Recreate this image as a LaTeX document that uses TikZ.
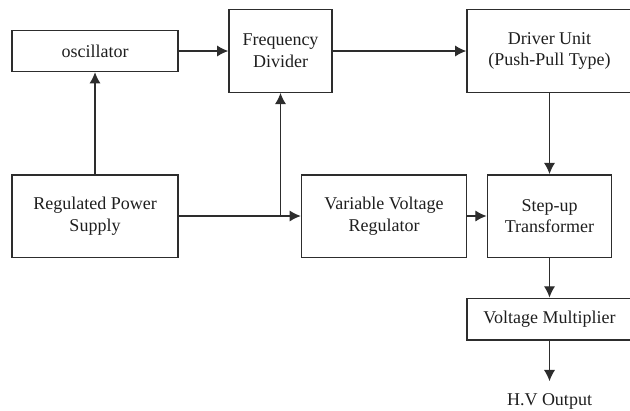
\documentclass[tikz,border=0pt]{standalone}
\usepackage{fontspec}
\setmainfont{Liberation Serif}
\usepackage{tikz}
\usetikzlibrary{arrows.meta}
\definecolor{grisLinea}{RGB}{45,45,45}
\definecolor{grisTexto}{RGB}{30,30,30}

\begin{document}
\begin{tikzpicture}[x=0.025cm, y=-0.025cm,
        bloque/.style={draw=grisLinea, line width=1pt, align=center, text=grisTexto,
            font=\fontsize{12.8}{15.4}\selectfont, inner sep=2pt},
        flecha/.style={draw=grisLinea, line width=0.9pt, -{Latex[length=8pt, width=8pt]}}]
        % Marco
        \useasboundingbox (0,0) rectangle (630,410);
        \clip (0,0) rectangle (630,410);

        % Fila superior
        \node[bloque, minimum width=4.15cm, minimum height=1.025cm] (osc) at (95,51) {oscillator};
        \node[bloque, minimum width=2.575cm, minimum height=2.06cm] (fd) at (280.5,51) {Frequency\\Divider};
        \node[bloque, minimum width=4.125cm, minimum height=2.06cm] (drv) at (549.5,51) {Driver Unit\\(Push-Pull Type)};

        % Fila central
        \node[bloque, minimum width=4.15cm, minimum height=2.06cm] (rps) at (95,216) {Regulated Power\\Supply};
        \node[bloque, minimum width=4.125cm, minimum height=2.06cm] (vvr) at (384,216) {Variable Voltage\\Regulator};
        \node[bloque, minimum width=3.11cm, minimum height=2.06cm] (sut) at (549.5,216) {Step-up\\Transformer};

        % Salida
        \node[bloque, minimum width=4.125cm, minimum height=1.04cm] (vm) at (549.5,319) {Voltage Multiplier};
        \node[bloque, draw=none, inner sep=0pt, inner ysep=8pt] (hv) at (549.5,401) {H.V Output};

        % Conexiones
        \coordinate (nudo) at (rps.east -| fd.south);
        \draw[flecha] (rps) -- (osc);
        \draw[flecha] (osc) -- (fd);
        \draw[flecha] (fd) -- (drv);
        \draw[flecha] (drv) -- (sut);
        \draw[flecha] (rps) -- (vvr);
        \draw[flecha] (nudo) -- (fd.south);
        \draw[flecha] (vvr) -- (sut);
        \draw[flecha] (sut) -- (vm);
        \draw[flecha] (vm) -- (hv);
    \end{tikzpicture}
\end{document}
